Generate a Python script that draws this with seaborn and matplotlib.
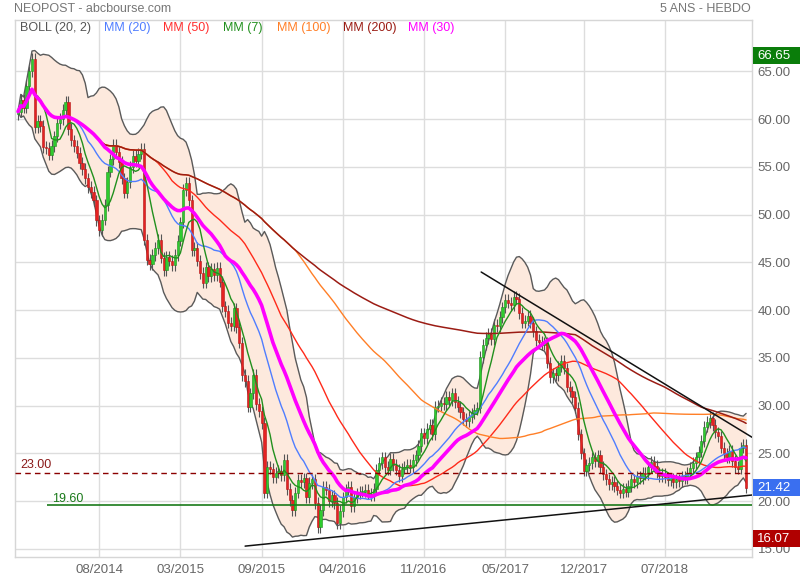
import numpy as np
import pandas as pd
import matplotlib
matplotlib.use("Agg")
import matplotlib.pyplot as plt
import matplotlib.transforms as mtransforms
from matplotlib.patches import Rectangle
import seaborn as sns

# Weekly closes (5 years, weekly)
closes = [
    60.8, 62.0, 61.2, 63.5, 65.0, 66.3, 59.2, 59.8, 59.3, 57.1,
    57.0, 56.3, 57.2, 58.2, 59.6, 60.0, 61.0, 61.8, 59.0, 57.8,
    57.2, 56.5, 55.4, 54.8, 53.8, 52.9, 52.4, 51.5, 49.4, 48.4,
    49.5, 51.0, 54.5, 55.8, 57.3, 56.6, 55.5, 53.8, 52.3, 53.4,
    55.0, 56.2, 55.6, 56.4, 56.9, 47.4, 45.3, 44.8, 45.8, 46.5,
    47.4, 45.5, 44.2, 45.6, 45.2, 44.7, 45.8, 47.3, 49.2, 52.6,
    53.3, 51.5, 46.3, 46.5, 45.2, 43.9, 42.9, 44.5, 43.6, 44.3,
    43.7, 44.4, 43.0, 40.4, 39.9, 38.7, 38.4, 40.2, 38.2, 36.6,
    33.2, 32.6, 29.9, 31.3, 33.2, 30.2, 29.4, 28.2, 20.9, 23.6,
    23.4, 22.5, 23.0, 23.2, 22.7, 24.3, 21.3, 20.1, 19.1, 20.9,
    22.2, 22.0, 22.4, 20.4, 21.9, 22.3, 19.8, 17.3, 19.1, 21.5,
    21.2, 20.0, 20.6, 19.8, 17.7, 19.0, 20.4, 21.2, 21.5, 19.5,
    20.4, 20.8, 21.0, 21.0, 21.2, 20.8, 20.6, 21.3, 23.3, 24.0,
    24.6, 23.6, 23.3, 24.4, 23.8, 23.3, 22.6, 23.4, 23.6, 23.8,
    23.6, 24.3, 24.8, 25.8, 27.1, 26.6, 27.6, 28.0, 27.0, 29.9,
    30.0, 30.3, 30.2, 30.9, 30.6, 31.3, 30.4, 29.9, 29.3, 28.6,
    28.4, 28.8, 29.2, 29.6, 29.8, 35.1, 36.4, 37.1, 37.5, 37.0,
    38.5, 38.3, 39.3, 40.3, 41.1, 40.8, 40.5, 41.4, 41.2, 39.7,
    38.7, 38.9, 39.4, 38.7, 37.8, 36.9, 36.7, 36.4, 36.6, 34.5,
    33.0, 33.4, 33.2, 34.1, 34.7, 33.9, 32.0, 31.5, 30.9, 29.8,
    27.0, 25.0, 23.2, 23.8, 24.0, 24.6, 24.2, 24.8, 23.6, 22.8,
    22.3, 21.8, 22.0, 21.6, 21.2, 20.9, 21.3, 21.0, 21.6, 22.3,
    22.0, 22.6, 22.4, 23.0, 22.8, 23.6, 24.1, 23.7, 23.0, 22.6,
    22.9, 22.5, 22.2, 22.4, 22.0, 22.3, 22.1, 22.6, 22.4, 23.0,
    23.5, 24.0, 24.6, 25.2, 26.3, 27.8, 28.3, 28.7, 28.0, 27.2,
    26.8, 25.6, 25.0, 24.6, 25.3, 24.2, 23.6, 23.4, 25.6, 25.9,
    21.42,
]
first_open = 60.5

tick_weeks = [29, 58, 87, 116, 145, 174, 202, 231]
tick_labels = ["08/2014", "03/2015", "09/2015", "04/2016",
               "11/2016", "05/2017", "12/2017", "07/2018"]

# horizontal levels and trend lines drawn on the chart
level_dashed = 23.00
level_support = 19.60
trend_low_weeks = [81.1, 262.1]
trend_low_vals = [15.3, 20.65]
trend_high_weeks = [165.4, 262.1]
trend_high_vals = [44.0, 26.7]

# price tags on the right
tag_high = 66.65
tag_last = 21.42
tag_low = 16.07

ma_names = ["MM (50)", "MM (100)", "MM (200)", "MM (20)", "MM (7)", "MM (30)"]
ma_windows = [50, 100, 200, 20, 7, 30]
ma_colors = ["#ff2a1a", "#ff7f27", "#9b1c14", "#4f7dff", "#22901e", "#ff00ff"]
ma_widths = [1.0, 1.0, 1.1, 1.0, 1.0, 2.6]

df = pd.DataFrame({"close": closes})
df["week"] = np.arange(len(df))
df["open"] = df["close"].shift(1).fillna(first_open)
wick = 0.6
df["high"] = df[["open", "close"]].max(axis=1) + wick
df["low"] = df[["open", "close"]].min(axis=1) - wick

roll = df["close"].rolling(20, min_periods=1)
df["boll_mid"] = roll.mean()
df["boll_std"] = roll.std(ddof=0)
df["boll_up"] = df["boll_mid"] + 2 * df["boll_std"]
df["boll_dn"] = df["boll_mid"] - 2 * df["boll_std"]
for name, w in zip(ma_names, ma_windows):
    df[name] = df["close"].rolling(w, min_periods=1).mean()

sns.set_theme(style="white")
plt.rcParams["font.family"] = ["Liberation Sans", "DejaVu Sans"]

W, H = 800, 580
fig = plt.figure(figsize=(8, 5.8), dpi=100)
ax = fig.add_axes([15 / W, 1 - 557 / H, 737 / W, 537 / H])

# Bollinger band
ax.fill_between(df["week"], df["boll_dn"], df["boll_up"], color="#fde9dd", lw=0, zorder=1)
sns.lineplot(x=df["week"], y=df["boll_up"], color="#5a5a5a", lw=1, ax=ax, zorder=2)
sns.lineplot(x=df["week"], y=df["boll_dn"], color="#5a5a5a", lw=1, ax=ax, zorder=2)

# candles
up = df["close"] >= df["open"]
body_col = np.where(up, "#2ecc2e", "#e52222")
edge_col = np.where(up, "#1e8f1e", "#b51515")
body_bottom = df[["open", "close"]].min(axis=1)
body_h = (df["close"] - df["open"]).abs().clip(lower=0.08)
ax.vlines(df["week"], df["low"], df["high"], color="#555555", lw=0.8, zorder=3)
ax.bar(df["week"], body_h, bottom=body_bottom, width=0.8,
       color=body_col, edgecolor=edge_col, lw=0.4, zorder=4)

# moving averages
for name, c, lw in zip(ma_names, ma_colors, ma_widths):
    sns.lineplot(x=df["week"], y=df[name], color=c, lw=lw, ax=ax, zorder=5)

# levels
ax.axhline(level_dashed, color="#8b0000", lw=1, ls=(0, (4, 3)), zorder=6)
ax.hlines(level_support, 10.4, 262.1, color="#1a7a1a", lw=1.2, zorder=6)
ax.text(0.7, 23.75, f"{level_dashed:.2f}", color="#8b1a1a", fontsize=9, va="center", zorder=7)
ax.text(12.1, 20.25, f"{level_support:.2f}", color="#1a7a1a", fontsize=9, va="center", zorder=7)

# trend lines
ax.plot(trend_low_weeks, trend_low_vals, color="#111111", lw=1.1, zorder=7)
ax.plot(trend_high_weeks, trend_high_vals, color="#111111", lw=1.1, zorder=7)

ax.set_xlim(-1.07, 262.1)
ax.set_ylim(14.16, 70.39)
ax.set_xticks(tick_weeks)
ax.set_xticklabels(tick_labels)
ax.set_yticks(np.arange(15, 70, 5))
ax.set_yticklabels([f"{v:.2f}" for v in np.arange(15, 70, 5)])
ax.yaxis.tick_right()
ax.tick_params(axis="both", length=0, labelsize=9.5, labelcolor="#666666")
ax.tick_params(axis="x", pad=5)
ax.tick_params(axis="y", pad=4)
ax.set_xlabel("")
ax.set_ylabel("")
ax.grid(True, color="#dddddd", lw=1)
ax.set_axisbelow(True)
for s in ax.spines.values():
    s.set_color("#d6d6d6")
    s.set_linewidth(1)

# price tags
trans = mtransforms.blended_transform_factory(ax.transAxes, ax.transData)
box_h = 17 / 9.55
for v, fc in [(tag_high, "#0a7d0a"), (tag_last, "#3a6ff0"), (tag_low, "#b00000")]:
    ax.add_patch(Rectangle((1 + 1 / 737, v - box_h / 2), 48 / 737, box_h, transform=trans,
                           fc=fc, ec="none", clip_on=False, zorder=19))
    ax.text(1.0 + 5 / 737, v, f"{v:.2f}", transform=trans, color="white",
            fontsize=9.5, va="center", ha="left", clip_on=False, zorder=20)

# header
fig.text(14 / W, 1 - 9 / H, "NEOPOST - abcbourse.com", color="#777777", fontsize=9, va="center")
fig.text(751 / W, 1 - 9 / H, "5 ANS - HEBDO", color="#777777", fontsize=9, va="center", ha="right")

legend_items = [("BOLL (20, 2)", "#555555", 20), ("MM (20)", "#4f7dff", 104),
                ("MM (50)", "#ff3030", 163), ("MM (7)", "#22901e", 223),
                ("MM (100)", "#ff7f27", 277), ("MM (200)", "#9b1c14", 343),
                ("MM (30)", "#ff00ff", 408)]
for txt, c, px in legend_items:
    fig.text(px / W, 1 - 28 / H, txt, color=c, fontsize=9, va="center")

fig.savefig("out.png", dpi=100)
